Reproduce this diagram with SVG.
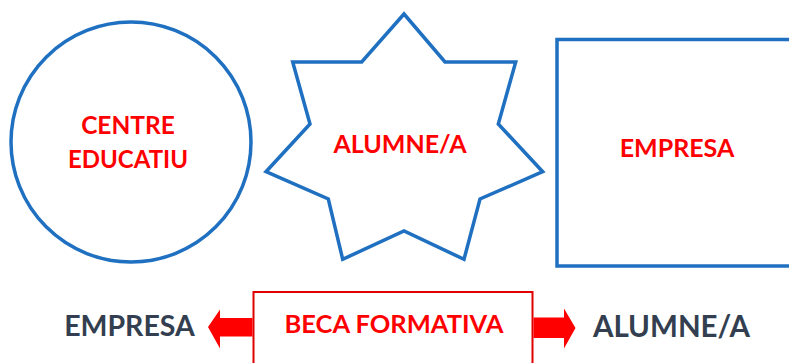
<svg xmlns="http://www.w3.org/2000/svg" width="789" height="363" viewBox="0 0 789 363">
<style>
.shape{fill:#ffffff;stroke:#1F70C1;stroke-width:3.5}
.lbl{font-family:Lato,"Open Sans","Liberation Sans",sans-serif;font-weight:bold;fill:#FF0000;text-anchor:middle}
.dark{font-family:Lato,"Open Sans","Liberation Sans",sans-serif;font-weight:bold;fill:#333F50;text-anchor:middle}
.arrow{fill:#FF0000}
</style>
<rect width="789" height="363" fill="#ffffff"/>
<g id="centre-educatiu">
<circle class="shape" cx="131" cy="142" r="120"/>
<text class="lbl" x="128" y="133.5" font-size="24.5">CENTRE</text>
<text class="lbl" x="128" y="168" font-size="24">EDUCATIU</text>
</g>
<g id="alumne">
<polygon class="shape" points="404,14 445,62 515.7,62 498.3,124 542.7,171.7 480,199 464,259.3 404,231 342.7,259.3 328.3,199 266,171.7 310,124 292.7,62 361.7,62"/>
<text class="lbl" x="400" y="152.5" font-size="25">ALUMNE/A</text>
</g>
<g id="empresa">
<rect class="shape" x="557" y="39.5" width="260" height="226.5"/>
<text class="lbl" x="677" y="156.5" font-size="25">EMPRESA</text>
</g>
<g id="beca">
<rect x="253.5" y="292" width="279" height="90" fill="#ffffff" stroke="#E00000" stroke-width="2"/>
<text class="lbl" x="394" y="332.5" font-size="25.5">BECA FORMATIVA</text>
</g>
<g id="connectors">
<polygon class="arrow" points="252.5,318 220,318 220,309.5 208,327 220,348.5 220,336.5 252.5,336.5"/>
<polygon class="arrow" points="533.5,317.5 564,317.5 564,308.5 575.5,328 564,348.5 564,338 533.5,338"/>
</g>
<g id="empresa-label">
<text class="dark" x="129.5" y="336" font-size="28.5">EMPRESA</text>
</g>
<g id="alumne-label">
<text class="dark" x="671.5" y="337.3" font-size="29.5">ALUMNE/A</text>
</g>
</svg>
